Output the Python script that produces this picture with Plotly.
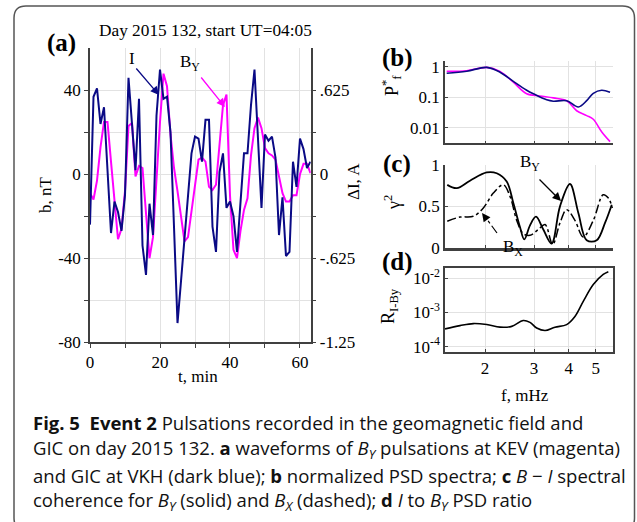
import plotly.graph_objects as go

W, H = 637, 522

# ---------------- data ----------------
t_min = list(range(64))
I_amp = [-0.375, 0.578, 0.641, 0.375, 0.5, 0.031, -0.438, -0.203, -0.281, -0.422,
         -0.156, 0.719, 0.391, 0.031, 0.563, -0.531, -0.75, -0.219, -0.453, 0.438,
         0.781, 0.563, 0.578, 0.313, -0.391, -1.109, -0.797, -0.484, -0.172, 0.156,
         0.281, 0.266, 0.094, 0.406, 0.406, -0.391, -0.578, 0.016, 0.156, -0.25,
         -0.203, -0.313, -0.578, -0.188, 0.156, 0.156, 0.516, 0.781, 0.234, -0.25,
         0.297, 0.25, 0.281, 0.125, -0.453, -0.172, -0.609, -0.578, 0.094, -0.094,
         0.266, 0.188, 0.047, 0.094]
BY_nT = [-9, -12, -3, 13, 25, 25, 6, -13, -31, -26,
         -8, 23, 24.5, -1, 4, 3, -18, -40, -30, 0,
         25, 48, 42, 19, 3, -8, -20, -32, -30, -18,
         -5, 7, 8, 6, -6, -7.5, -5, 14, 33, 38,
         -10, -36, -40, -27, -17, -11.5, 9, 22, 27, 22,
         12.5, 10, 9, 7, -1, -9, -13, -13, -10, -10,
         0, 5, 5, 0.5]

f_psd_I = [1.456, 1.718, 2.028, 2.264, 2.528, 2.823, 2.983, 3.332, 3.52, 3.93,
           4.33, 4.64, 4.90, 5.25, 5.63]
psd_I = [0.61, 0.71, 0.95, 0.66, 0.33, 0.17, 0.13, 0.082, 0.074, 0.077,
         0.048, 0.077, 0.134, 0.17, 0.145]
f_psd_B = [1.456, 1.718, 2.028, 2.264, 2.528, 2.823, 3.15, 3.52, 3.93, 4.27,
           4.64, 4.90, 5.25, 5.63]
psd_B = [0.71, 0.74, 0.95, 0.70, 0.31, 0.13, 0.11, 0.095, 0.077, 0.036,
         0.025, 0.019, 0.0074, 0.0035]

f_coh_Y = [1.463, 1.582, 1.766, 2.028, 2.203, 2.393, 2.528, 2.671, 2.768, 2.902,
           3.05, 3.24, 3.47, 3.72, 4.04, 4.33, 4.64, 5.04, 5.40, 5.71]
coh_Y = [0.76, 0.72, 0.81, 0.91, 0.90, 0.80, 0.54, 0.25, 0.10, 0.27,
         0.375, 0.22, 0.05, 0.50, 0.77, 0.42, 0.09, 0.09, 0.30, 0.52]
f_coh_X = [1.463, 1.626, 1.815, 1.972, 2.142, 2.326, 2.46, 2.60, 2.745, 2.902,
           3.108, 3.287, 3.50, 3.72, 3.93, 4.21, 4.51, 4.90, 5.32, 5.55, 5.74]
coh_X = [0.32, 0.37, 0.38, 0.48, 0.66, 0.76, 0.62, 0.33, 0.17, 0.15,
         0.22, 0.28, 0.04, 0.30, 0.46, 0.33, 0.13, 0.33, 0.64, 0.60, 0.48]

f_ratio = [1.436, 1.626, 1.815, 2.028, 2.264, 2.494, 2.745, 2.902, 3.067, 3.287,
           3.569, 3.93, 4.21, 4.51, 4.90, 5.32, 5.55]
ratio_I_BY = [3.3e-4, 4.1e-4, 4.7e-4, 4.4e-4, 3.7e-4, 3.9e-4, 5.8e-4, 5.1e-4, 3.5e-4, 2.95e-4,
              3.7e-4, 4.4e-4, 7.6e-4, 2.1e-3, 6.5e-3, 1.29e-2, 1.55e-2]

f_ticks = [2, 3, 4, 5]

# ---------------- helpers ----------------
def px(x):
    return x / W

def py(y):
    return 1 - y / H

SERIF = "Liberation Serif"
NAVY = "#0a0a85"
MAG = "#ff00ff"
AX = "#404040"
GRID = "#e2e2e2"
TS = 17

fig = go.Figure()

# panel (a)
fig.add_trace(go.Scatter(x=t_min, y=BY_nT, mode="lines", line=dict(color=MAG, width=2),
                         xaxis="x", yaxis="y", showlegend=False))
fig.add_trace(go.Scatter(x=t_min, y=I_amp, mode="lines", line=dict(color=NAVY, width=2),
                         xaxis="x", yaxis="y2", showlegend=False))
# panel (b)
fig.add_trace(go.Scatter(x=f_psd_B, y=psd_B, mode="lines", line=dict(color=MAG, width=1.6, shape="spline"),
                         xaxis="x3", yaxis="y3", showlegend=False))
fig.add_trace(go.Scatter(x=f_psd_I, y=psd_I, mode="lines", line=dict(color=NAVY, width=1.6, shape="spline"),
                         xaxis="x3", yaxis="y3", showlegend=False))
# panel (c)
fig.add_trace(go.Scatter(x=f_coh_X, y=coh_X, mode="lines",
                         line=dict(color="black", width=1.5, shape="spline", dash="dashdot"),
                         xaxis="x4", yaxis="y4", showlegend=False))
fig.add_trace(go.Scatter(x=f_coh_Y, y=coh_Y, mode="lines", line=dict(color="black", width=1.8, shape="spline"),
                         xaxis="x4", yaxis="y4", showlegend=False))
# panel (d)
fig.add_trace(go.Scatter(x=f_ratio, y=ratio_I_BY, mode="lines", line=dict(color="black", width=1.6, shape="spline"),
                         xaxis="x5", yaxis="y5", showlegend=False))

tickfont = dict(family=SERIF, size=TS, color="black")

# domains
xa = [px(90), px(310.7)]
ya = [py(342), py(48.3)]
xf = [px(445), px(613)]
yb = [py(143.3), py(61)]
yc = [py(247.7), py(165)]
yd = [py(351.7), py(268.3)]
xlog = [0.1571, 0.7611]

common_f = dict(type="log", range=xlog, tickvals=f_ticks, showgrid=True, gridcolor=GRID,
                showline=True, linecolor=AX, linewidth=1.5, ticks="inside", ticklen=3,
                tickcolor=AX, zeroline=False, tickfont=tickfont, domain=xf, automargin=False)

fig.update_layout(
    template="none",
    width=W, height=H, margin=dict(l=0, r=0, t=0, b=0, autoexpand=False),
    paper_bgcolor="white", plot_bgcolor="white",
    xaxis=dict(domain=xa, range=[0, 63.06], tickvals=[0, 10, 20, 30, 40, 50, 60],
               ticktext=["0", "", "20", "", "40", "", "60"], showgrid=True, gridcolor=GRID,
               showline=True, linecolor=AX, linewidth=1.5, ticks="outside", ticklen=4,
               tickcolor=AX, zeroline=False, tickfont=tickfont, anchor="y", automargin=False),
    yaxis=dict(domain=ya, range=[-80, 60.1], tickvals=[-80, -60, -40, -20, 0, 20, 40],
               ticktext=["-80", "", "-40", "", "0", "", "40"], showgrid=True, gridcolor=GRID,
               showline=True, linecolor=AX, linewidth=1.5, ticks="outside", ticklen=4,
               tickcolor=AX, zeroline=False, tickfont=tickfont, anchor="x", automargin=False),
    yaxis2=dict(overlaying="y", side="right", range=[-1.25, 0.9391],
                tickvals=[-1.25, -0.9375, -0.625, -0.3125, 0, 0.3125, 0.625],
                ticktext=["-1.25", "", "-.625", "", "0", "", ".625"], showgrid=False,
                showline=True, linecolor=AX, linewidth=1.5, ticks="outside", ticklen=4,
                tickcolor=AX, zeroline=False, tickfont=tickfont, anchor="x", automargin=False),
    xaxis3=dict(common_f, anchor="y3", showticklabels=False),
    yaxis3=dict(domain=yb, type="log", range=[-2.51, 0.187], tickvals=[0.01, 0.1, 1],
                ticktext=["0.01", "0.1", "1"], showgrid=True, gridcolor=GRID,
                showline=True, linecolor=AX, linewidth=1.5, ticks="inside", ticklen=3,
                tickcolor=AX, zeroline=False, tickfont=tickfont, anchor="x3", automargin=False),
    xaxis4=dict(common_f, anchor="y4", showticklabels=False, linewidth=2.5),
    yaxis4=dict(domain=yc, range=[0, 1], tickvals=[0, 0.5, 1], ticktext=["0", "0.5", "1"],
                showgrid=True, gridcolor=GRID, showline=True, linecolor=AX, linewidth=1.5,
                ticks="inside", ticklen=3, tickcolor=AX, zeroline=False, tickfont=tickfont,
                anchor="x4", automargin=False),
    xaxis5=dict(common_f, anchor="y5", ticktext=["2", "3", "4", "5"], mirror=True),
    yaxis5=dict(domain=yd, type="log", range=[-4.15, -1.71], tickvals=[1e-4, 1e-3, 1e-2],
                ticktext=["10<sup>-4</sup>", "10<sup>-3</sup>", "10<sup>-2</sup>"],
                showgrid=True, gridcolor=GRID, showline=True, linecolor=AX, linewidth=1.5,
                ticks="inside", ticklen=3, tickcolor=AX, zeroline=False, tickfont=tickfont,
                anchor="x5", mirror=True, automargin=False),
)

ann = []

def text(x, y, s, size=TS, family=SERIF, angle=0, color="black", xanchor="center"):
    ann.append(dict(x=px(x), y=py(y), xref="paper", yref="paper", text=s, showarrow=False,
                    font=dict(family=family, size=size, color=color), textangle=angle,
                    xanchor=xanchor, yanchor="middle"))

def arrow(x0, y0, x1, y1, color, width=1.3):
    ann.append(dict(x=px(x1), y=py(y1), xref="paper", yref="paper", text="", showarrow=True,
                    ax=x0 - x1, ay=y0 - y1, arrowhead=2, arrowsize=1.3, arrowwidth=width,
                    arrowcolor=color))

# titles & labels
text(205, 30, "Day 2015 132, start UT=04:05", size=17.3)
text(61, 43, "<b>(a)</b>", size=25)
text(397, 58, "<b>(b)</b>", size=25)
text(397, 164, "<b>(c)</b>", size=25)
text(397, 262, "<b>(d)</b>", size=25)
text(45, 195, "b, nT", angle=-90)
text(353, 182, "ΔI, A", angle=-90)
text(198, 376, "t, min")
text(525, 395, "f, mHz")
text(391, 86, "P<sup>*</sup><sub>f</sub>", angle=-90, size=18)
text(393, 203, "γ<sup>2</sup>", angle=-90, size=18)
text(389, 306, "R<sub>I-By</sub>", angle=-90, size=18)

# in-plot annotations
text(132, 58, "I")
arrow(135, 67, 159, 95, NAVY)
text(190, 63, "B<sub>Y</sub>")
arrow(200, 76, 225, 107, MAG)
text(530, 163, "B<sub>Y</sub>")
arrow(538, 178, 561, 201, "black")
text(513, 248, "B<sub>X</sub>")
arrow(488, 221, 482, 213, "black")

# caption
CAP = "Open Sans"
cap_lines = [
    "<b>Fig. 5  Event 2</b> Pulsations recorded in the geomagnetic field and",
    "GIC on day 2015 132. <b>a</b> waveforms of <i>B<sub>Y</sub></i> pulsations at KEV (magenta)",
    "and GIC at VKH (dark blue); <b>b</b> normalized PSD spectra; <b>c</b> <i>B</i> − <i>I</i> spectral",
    "coherence for <i>B<sub>Y</sub></i> (solid) and <i>B<sub>X</sub></i> (dashed); <b>d</b> <i>I</i> to <i>B<sub>Y</sub></i> PSD ratio",
]
cap_y = [422, 449, 475, 501]
for s, y in zip(cap_lines, cap_y):
    text(31, y, s, size=18.5, family=CAP, xanchor="left", color="#111111")

fig.update_layout(annotations=ann)

# shapes: dashed arrow shaft (c) and rounded frame
x0, y0, x1, y1, r = 14, 6, 634.5, 530, 12
def P(x, y):
    return f"{px(x):.5f},{py(y):.5f}"
path = (f"M {P(x0 + r, y0)} L {P(x1 - r, y0)} Q {P(x1, y0)} {P(x1, y0 + r)} "
        f"L {P(x1, y1 - r)} Q {P(x1, y1)} {P(x1 - r, y1)} L {P(x0 + r, y1)} "
        f"Q {P(x0, y1)} {P(x0, y1 - r)} L {P(x0, y0 + r)} Q {P(x0, y0)} {P(x0 + r, y0)} Z")
fig.update_layout(shapes=[
    dict(type="path", path=path, xref="paper", yref="paper", line=dict(color="#555555", width=1.5)),
    dict(type="line", xref="paper", yref="paper", x0=px(497), y0=py(233), x1=px(486), y1=py(218),
         line=dict(color="black", width=1.2, dash="dashdot")),
])

fig.write_html("out.html", config={"displayModeBar": False},
               post_script="document.body.style.margin='0';document.body.style.overflow='hidden';")
